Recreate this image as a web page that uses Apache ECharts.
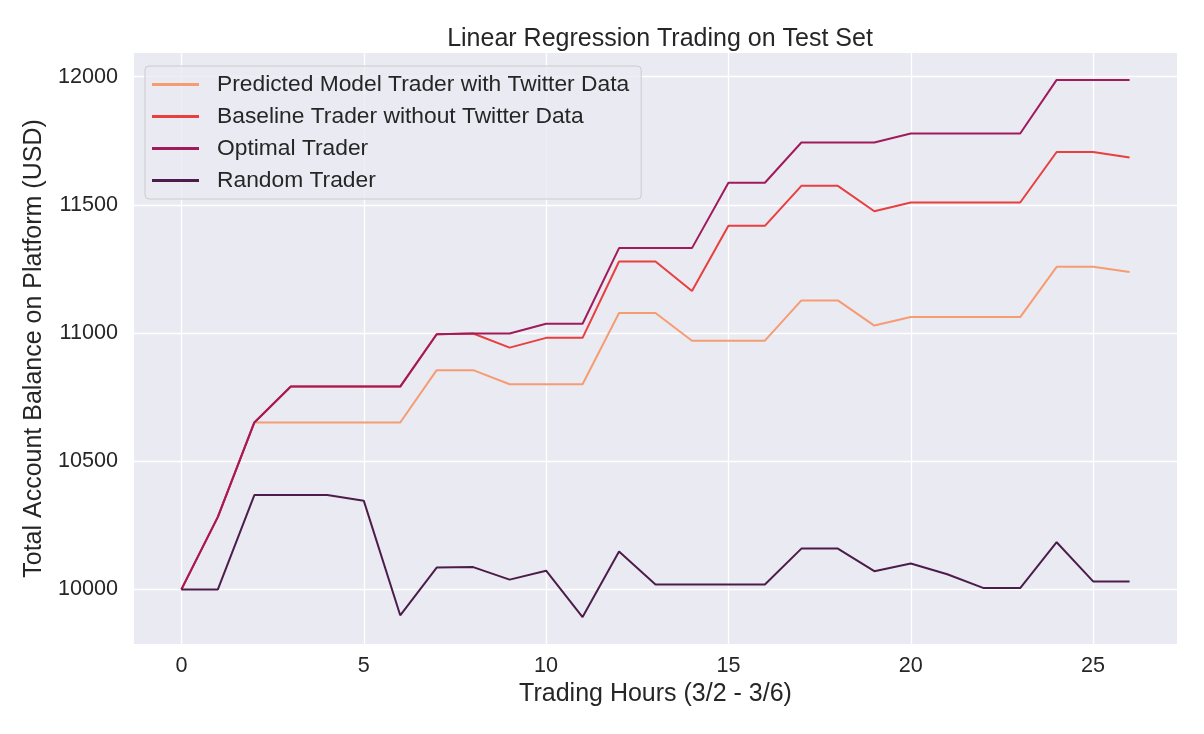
<!DOCTYPE html>
<html>
<head>
<meta charset="utf-8">
<script src="https://cdn.jsdelivr.net/npm/echarts@6/dist/echarts.min.js"></script>
<style>
  html, body { margin: 0; padding: 0; background: #fff; }
  #chart { width: 1204px; height: 734px; }
</style>
</head>
<body>
<div id="chart"></div>
<script>
// trading hours on the x axis
const hours = [0, 1, 2, 3, 4, 5, 6, 7, 8, 9, 10, 11, 12, 13, 14, 15, 16, 17, 18, 19, 20, 21, 22, 23, 24, 25, 26];

// account balances
const predicted = [10000, 10283, 10651, 10651, 10651, 10651, 10651, 10855, 10855, 10800, 10800, 10800, 11078, 11078, 10970, 10970, 10970, 11127, 11127, 11029, 11062, 11062, 11062, 11062, 11258, 11258, 11238];
const baseline = [10000, 10283, 10651, 10791, 10791, 10791, 10791, 10995, 10998, 10943, 10981, 10981, 11279, 11279, 11164, 11418, 11418, 11574, 11574, 11475, 11509, 11509, 11509, 11509, 11706, 11706, 11684];
const optimal = [10000, 10283, 10651, 10791, 10791, 10791, 10791, 10995, 10998, 10998, 11036, 11036, 11331, 11331, 11331, 11586, 11586, 11743, 11743, 11743, 11778, 11778, 11778, 11778, 11987, 11987, 11987];
const random = [10000, 10000, 10368, 10368, 10368, 10346, 9899, 10085, 10087, 10038, 10073, 9892, 10148, 10019, 10019, 10019, 10019, 10159, 10159, 10071, 10101, 10059, 10005, 10005, 10184, 10031, 10031];

const seriesNames = [
  "Predicted Model Trader with Twitter Data",
  "Baseline Trader without Twitter Data",
  "Optimal Trader",
  "Random Trader",
];
const seriesColors = ["#f69c73", "#e83f3f", "#a11a5b", "#4c1d4b"];

const xTicks = [0, 5, 10, 15, 20, 25];
const yTicks = [10000, 10500, 11000, 11500, 12000];

const FONT = "Liberation Sans, Arial, sans-serif";
const TEXT = "#262626";

function pairs(values) {
  return hours.map((h, i) => [h, values[i]]);
}

const allSeries = [predicted, baseline, optimal, random];

var myChart = echarts.init(document.getElementById("chart"));

var option = {
  backgroundColor: "#ffffff",
  animation: false,
  title: {
    text: "Linear Regression Trading on Test Set",
    left: 655,
    top: 22,
    textAlign: "center",
    textStyle: {
      fontFamily: FONT,
      fontSize: 25,
      fontWeight: "normal",
      color: TEXT,
    },
  },
  legend: {
    orient: "vertical",
    left: 145,
    top: 66,
    padding: [7, 12, 7, 7],
    itemGap: 9,
    itemWidth: 47,
    itemHeight: 3,
    icon: "rect",
    backgroundColor: "rgba(234,234,242,0.8)",
    borderColor: "#cccccc",
    borderWidth: 1,
    borderRadius: 4,
    textStyle: {
      fontFamily: FONT,
      fontSize: 22.8,
      lineHeight: 23,
      color: TEXT,
      padding: [0, 0, 0, 13],
    },
    data: seriesNames,
  },
  grid: {
    left: 134,
    right: 27,
    top: 53,
    bottom: 90,
    show: true,
    backgroundColor: "#eaeaf2",
    borderWidth: 0,
  },
  xAxis: {
    type: "value",
    min: -1.3,
    max: 27.3,
    name: "Trading Hours (3/2 - 3/6)",
    nameLocation: "middle",
    nameGap: 37,
    nameTextStyle: { fontFamily: FONT, fontSize: 25, color: TEXT },
    axisLine: { show: false },
    axisTick: { show: false, customValues: xTicks },
    axisLabel: {
      customValues: xTicks,
      fontFamily: FONT,
      fontSize: 21.6,
      color: TEXT,
      margin: 11,
    },
    splitLine: { show: true, lineStyle: { color: "#ffffff", width: 1.3 } },
  },
  yAxis: {
    type: "value",
    min: 9787,
    max: 12092,
    name: "Total Account Balance on Platform (USD)",
    nameLocation: "middle",
    nameGap: 84,
    nameTextStyle: { fontFamily: FONT, fontSize: 25, color: TEXT },
    axisLine: { show: false },
    axisTick: { show: false, customValues: yTicks },
    axisLabel: {
      customValues: yTicks,
      formatter: (v) => String(v),
      fontFamily: FONT,
      fontSize: 21.6,
      color: TEXT,
      margin: 16,
    },
    splitLine: { show: true, lineStyle: { color: "#ffffff", width: 1.3 } },
  },
  series: allSeries.map((values, i) => ({
    name: seriesNames[i],
    type: "line",
    data: pairs(values),
    symbol: "none",
    color: seriesColors[i],
    lineStyle: { width: 2, color: seriesColors[i] },
  })),
};

myChart.setOption(option);
</script>
</body>
</html>
